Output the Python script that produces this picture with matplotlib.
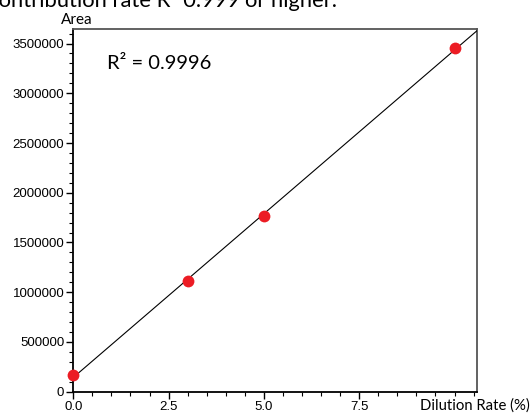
import numpy as np
import matplotlib
matplotlib.use("agg")
import matplotlib.pyplot as plt
from matplotlib.ticker import MultipleLocator, FixedLocator

# data
dilution = [0.0, 3.0, 5.0, 10.0]
area = [168000, 1110000, 1768000, 3452000]
r2_text = "R\u00b2 = 0.9996"
title_text = "Contribution rate R\u00b2 0.999 or higher."
yticks = [0, 500000, 1000000, 1500000, 2000000, 2500000, 3000000, 3500000]
xticks = [0.0, 2.5, 5.0, 7.5]

xlim = [0, 10.58]
ylim = [0, 3643000]

plt.rcParams['font.family'] = ['Liberation Sans', 'DejaVu Sans']
lab_font = ['Lato', 'DejaVu Sans']

fig = plt.figure(figsize=(5.31, 4.13), dpi=100)
ax = fig.add_axes([0.138, 0.0516, 0.7597, 0.8774])

# linear fit
k, b = np.polyfit(dilution, area, 1)
xx = np.array(xlim)
ax.plot(xx, k * xx + b, color="black", lw=0.8, zorder=3)
ax.plot(dilution, area, "o", color="#ec1c24", ms=8.5, mec="none", zorder=5, clip_on=False)

ax.set_xlim(xlim)
ax.set_ylim(ylim)
ax.xaxis.set_major_locator(FixedLocator(xticks))
ax.xaxis.set_minor_locator(MultipleLocator(0.5))
ax.yaxis.set_major_locator(FixedLocator(yticks))
ax.yaxis.set_minor_locator(MultipleLocator(100000))
ax.set_xticklabels(["%.1f" % v for v in xticks])
ax.set_yticklabels([str(v) for v in yticks])

ax.tick_params(which="major", direction="out", length=5, width=1.0, labelsize=9.5, pad=1.5, color="black")
ax.tick_params(which="minor", direction="out", length=2.8, width=0.8, color="black")
ax.tick_params(top=False, right=False)

for s in ["left", "bottom"]:
    ax.spines[s].set_linewidth(1.3)
    ax.spines[s].set_color("black")
for s in ["top", "right"]:
    ax.spines[s].set_linewidth(1.3)
    ax.spines[s].set_color("#555555")

fig.text(77 / 531, 1 - 24 / 413, "Area", ha="center", va="baseline", fontsize=11, family=lab_font)
fig.text(530 / 531, 1 - 410 / 413, "Dilution Rate (%)", ha="right", va="baseline", fontsize=10.7, family=lab_font)
fig.text(107 / 531, 1 - 69 / 413, r2_text, ha="left", va="baseline", fontsize=14.5, family=lab_font)

# the title line is cut by the top edge, as in the reference; its "C" sits just left of the edge
renderer = fig.canvas.get_renderer()
probe = fig.text(0, 0, "C", fontsize=15.8, family=lab_font)
cw = probe.get_window_extent(renderer).width
probe.remove()
fig.text(-(cw + 1) / 531, 1 - 7 / 413, title_text, ha="left", va="baseline", fontsize=15.8, family=lab_font)

plt.savefig("out.png", dpi=100)
